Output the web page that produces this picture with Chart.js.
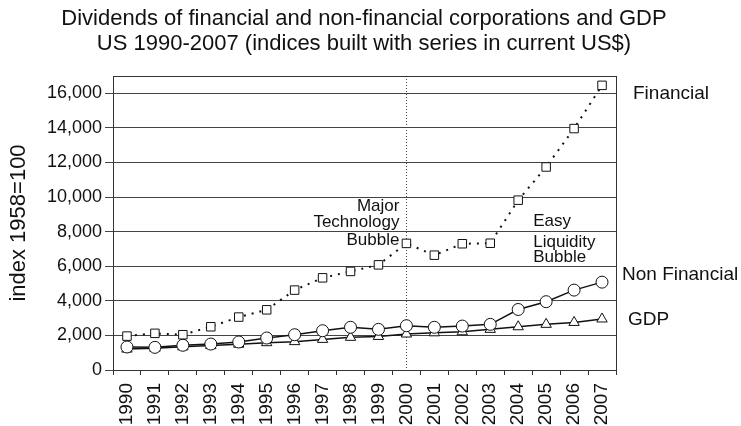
<!DOCTYPE html>
<html lang="en">
<head>
    <meta charset="UTF-8">
    <title>Dividends and GDP</title>
    <script src="https://cdn.jsdelivr.net/npm/chart.js"></script>
    <style>
        body {
            margin: 0;
            padding: 0;
            background: #fff;
        }
        .wrap {
            width: 741px;
            height: 426px;
        }
    </style>
</head>
<body>

    <div class="wrap">
        <canvas id="divChart" width="741" height="426"></canvas>
    </div>

    <script>
        const years = ['1990', '1991', '1992', '1993', '1994', '1995', '1996', '1997', '1998',
                       '1999', '2000', '2001', '2002', '2003', '2004', '2005', '2006', '2007'];
        const financial = [1960, 2120, 2040, 2500, 3060, 3480, 4620, 5330, 5700,
                           6080, 7320, 6640, 7300, 7330, 9820, 11740, 13960, 16460];
        const nonFinancial = [1330, 1310, 1430, 1500, 1620, 1850, 2040, 2270, 2470,
                              2350, 2560, 2470, 2540, 2640, 3500, 3950, 4620, 5080];
        const gdp = [1210, 1260, 1340, 1410, 1490, 1580, 1640, 1770, 1890,
                     1940, 2080, 2150, 2210, 2350, 2500, 2640, 2750, 2950];
        const yTicks = [0, 2000, 4000, 6000, 8000, 10000, 12000, 14000, 16000];

        const titleLines = ['Dividends of financial and non-financial corporations and GDP',
                            'US 1990-2007 (indices built with series in current US$)'];
        const seriesLabels = [
            { text: 'Financial', value: 16000, dx: 17 },
            { text: 'Non Financial', value: 5480, dx: 6 },
            { text: 'GDP', value: 2890, dx: 12 }
        ];
        const techNote = [['Major', 9470], ['Technology', 8550], ['Bubble', 7510]];
        const easyNote = [['Easy', 8610], ['Liquidity', 7390], ['Bubble', 6530]];

        const FONT = "'Liberation Sans', Arial, sans-serif";
        const INK = '#111';

        const extras = {
            id: 'extras',
            beforeDatasetsDraw(chart) {
                const ctx = chart.ctx;
                const area = chart.chartArea;
                const x = chart.scales.x.getPixelForValue(10);
                ctx.save();
                ctx.strokeStyle = '#444';
                ctx.lineWidth = 1;
                ctx.setLineDash([1, 2]);
                ctx.beginPath();
                ctx.moveTo(Math.round(x) + 0.5, area.top);
                ctx.lineTo(Math.round(x) + 0.5, area.bottom);
                ctx.stroke();
                ctx.setLineDash([]);
                ctx.strokeStyle = '#333';
                ctx.strokeRect(area.left + 0.5, area.top + 0.5, area.right - area.left, area.bottom - area.top);
                ctx.restore();
            },
            afterDraw(chart) {
                const ctx = chart.ctx;
                const area = chart.chartArea;
                const ys = chart.scales.y;
                const xs = chart.scales.x;
                ctx.save();
                ctx.fillStyle = INK;
                ctx.textBaseline = 'middle';

                ctx.textAlign = 'center';
                ctx.font = '22px ' + FONT;
                ctx.fillText(titleLines[0], 364, 19);
                ctx.fillText(titleLines[1], 364, 44);

                ctx.textAlign = 'left';
                ctx.font = '19px ' + FONT;
                seriesLabels.forEach(l => {
                    ctx.fillText(l.text, area.right + l.dx, ys.getPixelForValue(l.value));
                });

                ctx.font = '17px ' + FONT;
                ctx.textAlign = 'right';
                const tx = xs.getPixelForValue(10) - 7;
                techNote.forEach(n => ctx.fillText(n[0], tx, ys.getPixelForValue(n[1])));
                ctx.textAlign = 'left';
                const ex = xs.getPixelForValue(14) + 15;
                easyNote.forEach(n => ctx.fillText(n[0], ex, ys.getPixelForValue(n[1])));
                ctx.restore();
            }
        };

        const ctx = document.getElementById('divChart').getContext('2d');
        new Chart(ctx, {
            type: 'line',
            data: {
                labels: years,
                datasets: [{
                    label: 'Financial',
                    data: financial,
                    borderColor: INK,
                    borderWidth: 2,
                    borderDash: [2, 6],
                    pointStyle: 'rect',
                    pointRadius: 6,
                    pointBorderWidth: 1,
                    pointBorderColor: INK,
                    pointBackgroundColor: '#fff',
                    tension: 0
                }, {
                    label: 'Non Financial',
                    data: nonFinancial,
                    borderColor: INK,
                    borderWidth: 1.5,
                    pointStyle: 'circle',
                    pointRadius: 6,
                    pointBorderWidth: 1,
                    pointBorderColor: INK,
                    pointBackgroundColor: '#fff',
                    tension: 0
                }, {
                    label: 'GDP',
                    data: gdp,
                    borderColor: INK,
                    borderWidth: 1.5,
                    pointStyle: 'triangle',
                    pointRadius: 6,
                    pointBorderWidth: 1,
                    pointBorderColor: INK,
                    pointBackgroundColor: '#fff',
                    tension: 0
                }]
            },
            options: {
                responsive: false,
                animation: false,
                layout: {
                    padding: { left: 6, right: 125, top: 76, bottom: 0 }
                },
                plugins: {
                    legend: { display: false },
                    tooltip: { enabled: false },
                    title: { display: false }
                },
                scales: {
                    x: {
                        offset: true,
                        grid: {
                            offset: true,
                            drawOnChartArea: false,
                            drawTicks: true,
                            tickLength: 5,
                            color: '#333'
                        },
                        border: { color: '#333' },
                        ticks: {
                            autoSkip: false,
                            maxRotation: 90,
                            minRotation: 90,
                            padding: 8,
                            color: INK,
                            font: { family: FONT, size: 19 }
                        },
                        afterFit(scale) { scale.height = 56; }
                    },
                    y: {
                        min: 0,
                        max: 17000,
                        afterBuildTicks(scale) {
                            scale.ticks = yTicks.map(v => ({ value: v }));
                        },
                        grid: {
                            color: '#444',
                            tickLength: 8,
                            drawTicks: true
                        },
                        border: { color: '#333' },
                        ticks: {
                            padding: 3,
                            color: INK,
                            font: { family: FONT, size: 18 },
                            callback: v => v.toLocaleString('en-US')
                        },
                        title: {
                            display: true,
                            text: 'index 1958=100',
                            color: INK,
                            padding: 0,
                            font: { family: FONT, size: 22 }
                        },
                        afterFit(scale) { scale.width = 107; }
                    }
                }
            },
            plugins: [extras]
        });
    </script>

</body>
</html>
